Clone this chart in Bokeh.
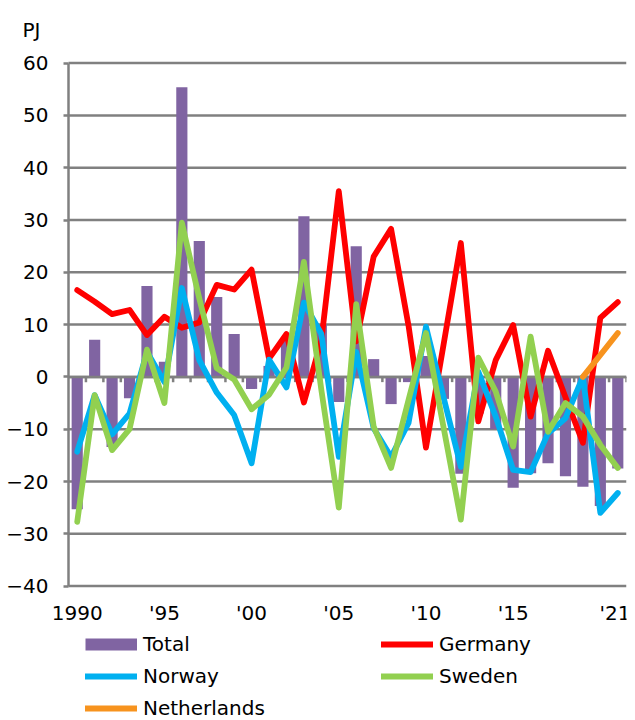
from bokeh.plotting import figure
from bokeh.models import (ColumnDataSource, FixedTicker, Legend, LegendItem, Range1d)
from bokeh.embed import file_html
from bokeh.resources import INLINE

# ---- data (PJ) ----
years = list(range(1990, 2022))
total = [-25.3, 7.1, -13.4, -4.1, 17.4, 2.9, 55.4, 26.0, 15.3, 8.2,
         -2.3, 2.1, 7.0, 30.7, 10.0, -4.8, 25.0, 3.4, -5.2, -1.0,
         4.0, -4.2, -18.5, -7.0, -10.0, -21.2, -18.4, -16.5, -19.0, -21.0,
         -24.7, -17.5]
germany = [16.6, 14.4, 12.0, 12.8, 8.0, 11.5, 9.4, 10.4, 17.6, 16.7,
           20.5, 3.5, 8.2, -4.9, 7.0, 35.5, 6.8, 23.0, 28.3, 9.8,
           -13.5, 6.0, 25.6, -8.5, 3.2, 9.9, -7.6, 5.0, -3.9, -12.6,
           11.3, 14.3]
norway = [-14.3, -3.5, -11.0, -7.0, 4.8, -1.0, 17.0, 3.2, -3.0, -7.3,
          -16.5, 3.3, -2.0, 14.2, 8.2, -15.3, 4.8, -9.8, -15.3, -8.8,
          9.6, -3.8, -17.2, 1.0, -7.6, -17.8, -18.2, -10.8, -7.9, 0.0,
          -26.0, -22.2]
sweden = [-27.7, -3.5, -14.0, -10.0, 5.2, -5.0, 29.5, 15.0, 1.7, -0.5,
          -6.2, -3.4, 1.8, 22.0, -2.5, -25.0, 13.9, -9.5, -17.4, -4.4,
          8.4, -9.5, -27.3, 3.7, -2.8, -13.3, 7.7, -10.5, -5.0, -7.6,
          -13.0, -17.4]
nl_years = [2019, 2020, 2021]
netherlands = [0.0, 4.2, 8.4]

tick_years = [1990, 1995, 2000, 2005, 2010, 2015, 2021]
tick_labels = ["1990", "'95", "'00", "'05", "'10", "'15", "'21"]
y_ticks = [-40, -30, -20, -10, 0, 10, 20, 30, 40, 50, 60]

FONT = "DejaVu Sans"
GRID = "gray"
C_TOTAL = "#8064A2"
C_DE = "#FF0000"
C_NO = "#00B0F0"
C_SE = "#92D050"
C_NL = "#F7931E"
LW = 5.8

src = ColumnDataSource(dict(year=years, total=total, germany=germany,
                            norway=norway, sweden=sweden))
src_nl = ColumnDataSource(dict(year=nl_years, netherlands=netherlands))

# geometry: plot area 558 px wide for 32 years, starting 68 px from the left;
# the frame also covers the axis-label strip on the left and the legend below
x0, x1 = years[0] - 0.5, years[-1] + 0.5
PXX = 558 / (x1 - x0)
LEFT = 68
FW = 558 + LEFT
x_left = x0 - LEFT / PXX
PX = 5.23                      # pixels per PJ
TOP = 54                       # frame top (px)
FH = 720 - TOP
y_top = y_ticks[-1] + 8.6 / PX
y_bot = y_top - FH / PX

p = figure(frame_width=FW, frame_height=FH,
           x_range=Range1d(x_left, x1), y_range=Range1d(y_bot, y_top),
           output_backend="svg", toolbar_location=None,
           min_border_left=0, min_border_right=4,
           min_border_top=TOP, min_border_bottom=0)
p.outline_line_color = None

# unit label as title (top-left)
p.title.text = "PJ"
p.title.text_font = FONT
p.title.text_font_size = "20px"
p.title.text_font_style = "normal"
p.title.text_color = "black"
p.title.align = "left"
p.title.offset = 22
p.title.standoff = 26

p.grid.visible = False

# y axis pinned at the left edge of the plot area
p.yaxis.fixed_location = x0
p.yaxis.ticker = FixedTicker(ticks=y_ticks, minor_ticks=[])
p.yaxis.bounds = (y_ticks[0], y_ticks[-1])
p.yaxis.axis_line_color = GRID
p.yaxis.axis_line_width = 2.5
p.yaxis.major_tick_in = 0
p.yaxis.major_tick_out = 5
p.yaxis.major_tick_line_color = GRID
p.yaxis.major_tick_line_width = 2.5
p.yaxis.minor_tick_line_color = None
p.yaxis.major_label_text_font = FONT
p.yaxis.major_label_text_font_size = "20px"
p.yaxis.major_label_text_color = "black"
p.yaxis.major_label_standoff = 15

# x axis (labels only), pinned just below the -40 gridline
p.xaxis.fixed_location = y_ticks[0] - 0.5
p.xaxis.ticker = FixedTicker(ticks=tick_years, minor_ticks=[])
p.xaxis.major_label_overrides = {y: l for y, l in zip(tick_years, tick_labels)}
p.xaxis.axis_line_color = None
p.xaxis.major_tick_line_color = None
p.xaxis.major_tick_in = 0
p.xaxis.major_tick_out = 0
p.xaxis.minor_tick_line_color = None
p.xaxis.major_label_text_font = FONT
p.xaxis.major_label_text_font_size = "20px"
p.xaxis.major_label_text_color = "black"
p.xaxis.major_label_standoff = 12

# horizontal gridlines
p.segment(x0=[x0] * len(y_ticks), y0=y_ticks, x1=[x1] * len(y_ticks), y1=y_ticks,
          line_color=GRID, line_width=2.5)

# bars
p.vbar(x="year", top="total", bottom=0, width=0.64, source=src,
       fill_color=C_TOTAL, line_color=None)

# category axis at zero with tick marks between categories
bounds = [y + 0.5 for y in years]
p.segment(x0=[x0], y0=[0], x1=[x1], y1=[0], line_color=GRID, line_width=2.5)
p.segment(x0=bounds, y0=[0] * len(bounds), x1=bounds, y1=[-1.0] * len(bounds),
          line_color=GRID, line_width=2.5)

# lines
kw = dict(line_width=LW, line_join="round", line_cap="round")
p.line("year", "germany", source=src, line_color=C_DE, **kw)
p.line("year", "norway", source=src, line_color=C_NO, **kw)
p.line("year", "sweden", source=src, line_color=C_SE, **kw)
p.line("year", "netherlands", source=src_nl, line_color=C_NL, **kw)

# legend swatches (draw nothing in the plot)
nan = float("nan")
g_tot = p.line(x=[nan], y=[nan], line_color=C_TOTAL, line_width=12, line_cap="butt")
g_de = p.line(x=[nan], y=[nan], line_color=C_DE, line_width=LW, line_cap="round")
g_no = p.line(x=[nan], y=[nan], line_color=C_NO, line_width=LW, line_cap="round")
g_se = p.line(x=[nan], y=[nan], line_color=C_SE, line_width=LW, line_cap="round")
g_nl = p.line(x=[nan], y=[nan], line_color=C_NL, line_width=LW, line_cap="round")

leg_kw = dict(glyph_width=52, glyph_height=20, label_height=20, label_standoff=6,
              spacing=8, padding=0, margin=0, border_line_color=None,
              background_fill_alpha=0, label_text_font=FONT,
              label_text_font_size="20px", label_text_color="black")
leg1 = Legend(items=[LegendItem(label="Total", renderers=[g_tot]),
                     LegendItem(label="Norway", renderers=[g_no]),
                     LegendItem(label="Netherlands", renderers=[g_nl])],
              location=(LEFT + 17, 0), **leg_kw)
leg2 = Legend(items=[LegendItem(label="Germany", renderers=[g_de]),
                     LegendItem(label="Sweden", renderers=[g_se])],
              location=(LEFT + 313, 32), **leg_kw)
p.add_layout(leg1)
p.add_layout(leg2)

open("out.html", "w").write(file_html(p, INLINE))
